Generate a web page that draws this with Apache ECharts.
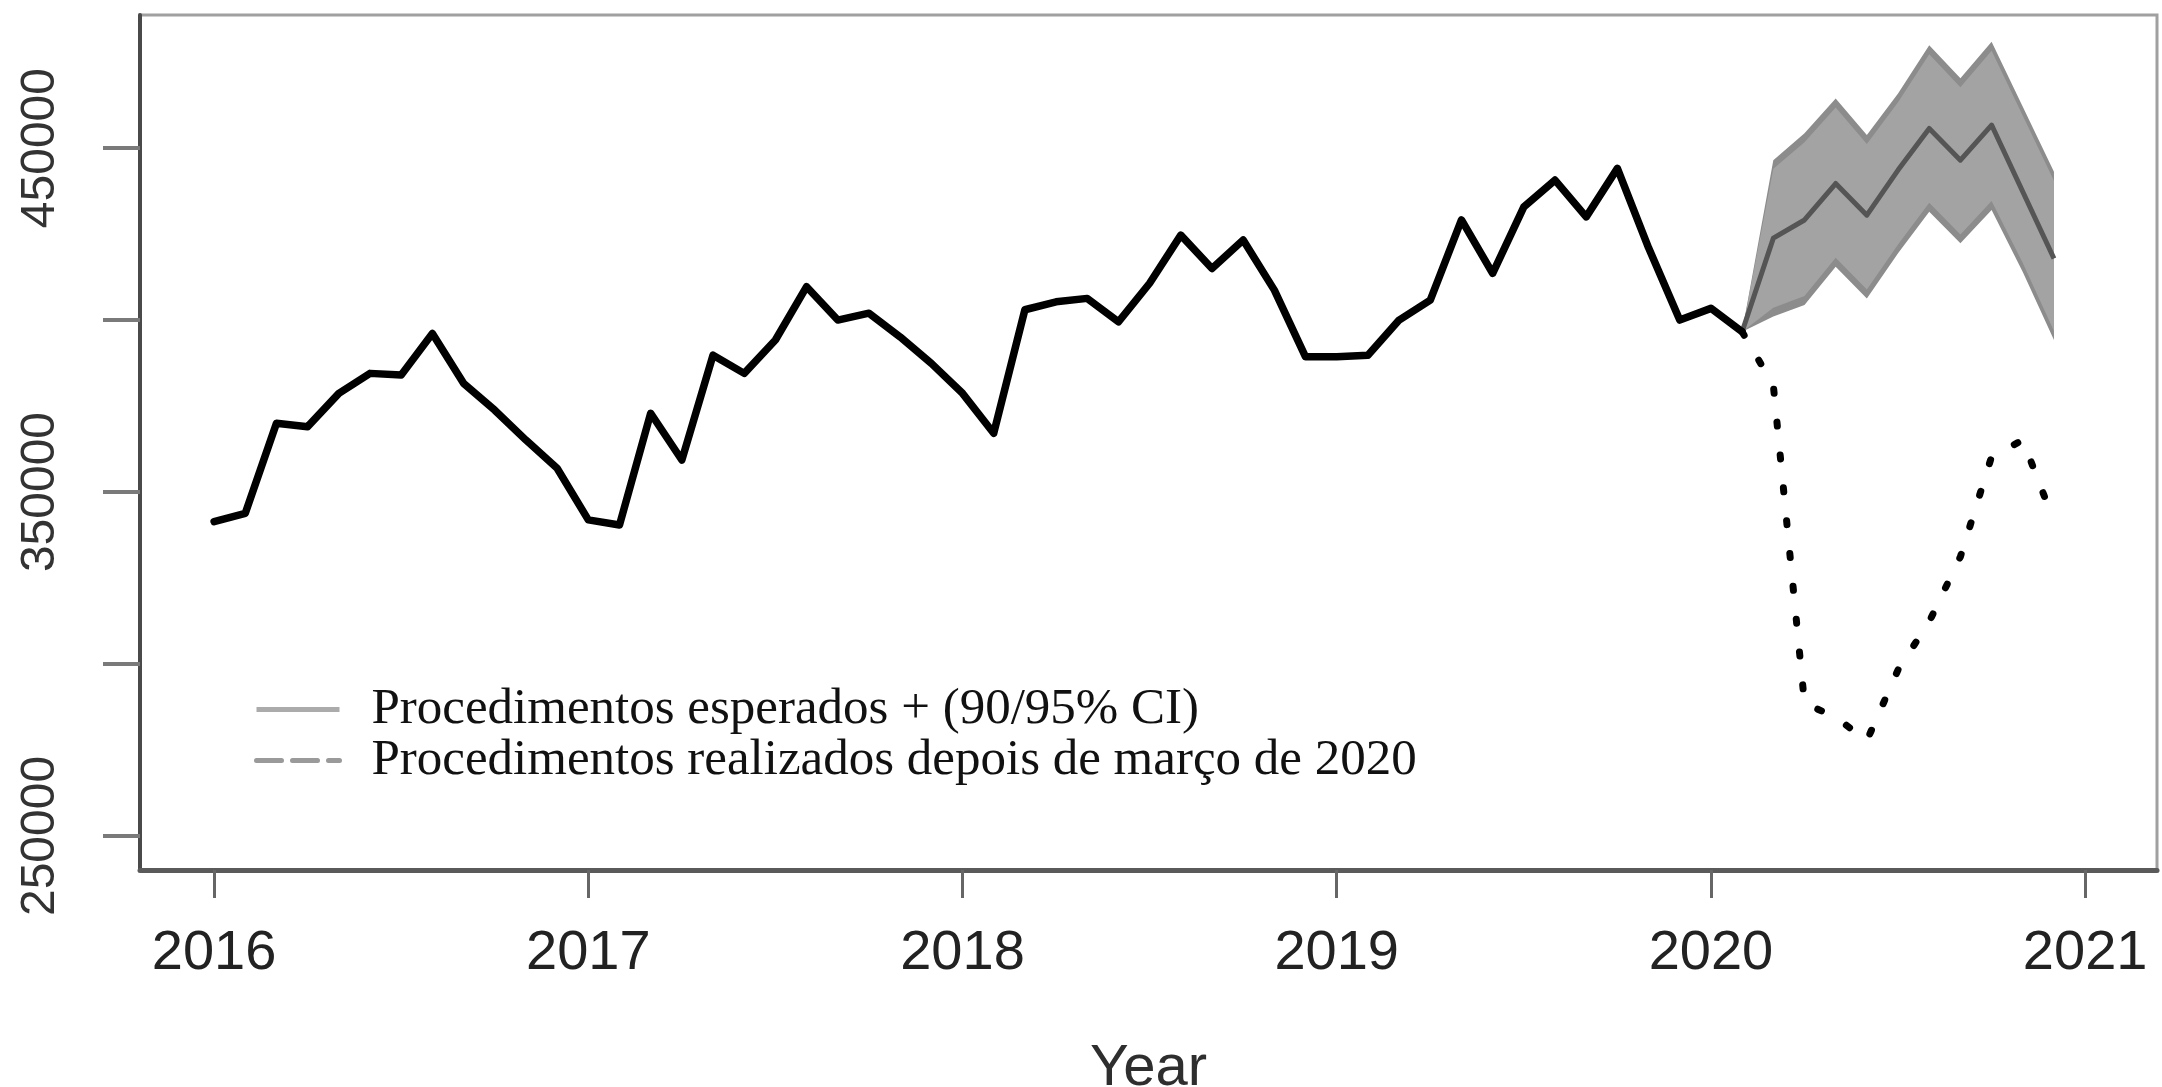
<!DOCTYPE html>
<html>
<head>
<meta charset="utf-8">
<title>Procedimentos esperados x realizados</title>
<script src="https://cdn.jsdelivr.net/npm/echarts@6/dist/echarts.min.js"></script>
<style>
    html, body { margin: 0; padding: 0; background: #fff; }
    #chart { width: 2162px; height: 1087px; }
</style>
</head>
<body>
<div id="chart"></div>
<script>
// dados mensais, jan/2016 .. fev/2020
const startYear = 2016;
const histValues = [
    341400, 343800, 370000, 369000, 378700, 384500, 384000, 396100, 381600, 373800, 365100, 356900,
    341900, 340400, 372900, 359300, 389800, 384500, 394200, 409700, 400000, 402000, 395100, 387400,
    378700, 367100, 403000, 405300, 406300, 399500, 410700, 424700, 415000, 423300, 408700, 389300,
    389300, 389800, 400000, 405800, 429100, 413600, 432900, 440700, 430000, 444100, 421000, 400000,
    403400, 396600
];

// previsao fev/2020 .. dez/2020 (indice 49..59)
const fcStart = 49;
const fcMean    = [396600, 423800, 429100, 439700, 430500, 443600, 455700, 446500, 456700, 437300, 417900];
const fcUpper95 = [396600, 446500, 454300, 464400, 453800, 465900, 479900, 470300, 480900, 462000, 443100];
const fcLower95 = [396600, 401000, 404400, 415500, 406300, 419400, 431500, 422300, 432000, 414000, 394200];
const fcUpper90 = [396600, 444000, 451700, 461800, 451200, 463300, 477300, 467700, 478300, 459400, 440500];
const fcLower90 = [396600, 403600, 407000, 418100, 408900, 422000, 434100, 424900, 434600, 416600, 396800];

// realizados depois de marco de 2020
const realValues = [396600, 381100, 288600, 284500, 277700, 298300, 312300, 331200, 360300, 365100, 341500];

const yearTicks = [2016, 2017, 2018, 2019, 2020, 2021];
const yTicks = [250000, 300000, 350000, 400000, 450000];
const yLabels = [250000, 350000, 450000];

const nameExpected = 'Procedimentos esperados + (90/95% CI)';
const nameReal = 'Procedimentos realizados depois de março de 2020';

const monthX = i => startYear + i / 12;
const fcX = fcMean.map((v, i) => monthX(fcStart + i));

// faixa de confianca como poligono unico
function bandSeries(name, lo, hi, color, z) {
    return {
        type: 'custom',
        name: name,
        silent: true,
        z: z,
        data: lo.map((v, i) => [fcX[i], v, hi[i]]),
        encode: { x: 0, y: [1, 2] },
        renderItem: function (params, api) {
            if (params.dataIndex !== 0) return null;
            const top = hi.map((v, i) => api.coord([fcX[i], v]));
            const bot = lo.map((v, i) => api.coord([fcX[i], v])).reverse();
            return {
                type: 'polygon',
                shape: { points: top.concat(bot) },
                style: { fill: color }
            };
        }
    };
}

const chart = echarts.init(document.getElementById('chart'));

const option = {
    animation: false,
    backgroundColor: '#ffffff',
    grid: {
        left: 140,
        right: 5,
        top: 15,
        bottom: 217,
        outerBoundsMode: 'none',
        containLabel: false,
        show: true,
        borderColor: '#a0a0a0',
        borderWidth: 3,
        backgroundColor: 'transparent'
    },
    legend: {
        orient: 'vertical',
        left: 254,
        top: 684,
        padding: 0,
        itemWidth: 83,
        itemHeight: 14,
        itemGap: 0,
        selectedMode: false,
        formatter: '{g| }{name}',
        textStyle: {
            fontFamily: 'Liberation Serif',
            fontSize: 51,
            color: '#111',
            lineHeight: 45,
            rich: {
                g: { width: 27, lineHeight: 45 }
            }
        },
        data: [
            {
                name: nameExpected,
                itemStyle: { opacity: 0 },
                lineStyle: { color: '#ababab', width: 5, type: 'solid' }
            },
            {
                name: nameReal,
                itemStyle: { opacity: 0 },
                lineStyle: { color: '#9a9a9a', width: 5, type: [25, 11] }
            }
        ]
    },
    xAxis: {
        type: 'value',
        min: 2015.802,
        max: 2021.192,
        name: 'Year',
        nameLocation: 'middle',
        nameGap: 170,
        nameTextStyle: {
            fontFamily: 'Liberation Sans',
            fontSize: 58,
            color: '#2e2e2e'
        },
        axisLine: { show: true, lineStyle: { color: '#5a5a5a', width: 5 } },
        axisTick: {
            show: true,
            length: 28,
            customValues: yearTicks,
            lineStyle: { color: '#666', width: 3 }
        },
        axisLabel: {
            customValues: yearTicks,
            margin: 56,
            fontFamily: 'Liberation Sans',
            fontSize: 56,
            color: '#222',
            formatter: v => String(v)
        },
        splitLine: { show: false }
    },
    yAxis: {
        type: 'value',
        min: 240100,
        max: 488700,
        axisLine: { show: true, lineStyle: { color: '#4a4a4a', width: 4 } },
        axisTick: {
            show: true,
            length: 37,
            customValues: yTicks,
            lineStyle: { color: '#7a7a7a', width: 4 }
        },
        axisLabel: {
            customValues: yLabels,
            rotate: 90,
            margin: 75,
            fontFamily: 'Liberation Sans',
            fontSize: 48,
            color: '#333',
            formatter: v => String(v)
        },
        splitLine: { show: false }
    },
    series: [
        bandSeries('ci95', fcLower95, fcUpper95, '#8c8c8c', 2),
        bandSeries('ci90', fcLower90, fcUpper90, '#a3a3a3', 3),
        {
            name: 'Observado',
            type: 'line',
            z: 5,
            symbol: 'none',
            data: histValues.map((v, i) => [monthX(i), v]),
            lineStyle: { color: '#000', width: 7.5, cap: 'round', join: 'round' }
        },
        {
            name: nameExpected,
            type: 'line',
            z: 4,
            symbol: 'none',
            itemStyle: { color: '#555' },
            data: fcMean.map((v, i) => [fcX[i], v]),
            lineStyle: { color: '#555', width: 5, join: 'round' }
        },
        {
            name: nameReal,
            type: 'line',
            z: 4,
            symbol: 'none',
            itemStyle: { color: '#000' },
            data: realValues.map((v, i) => [fcX[i], v]),
            lineStyle: { color: '#000', width: 7, type: [4, 29], cap: 'round', join: 'round' }
        }
    ]
};

chart.setOption(option);
</script>
</body>
</html>
